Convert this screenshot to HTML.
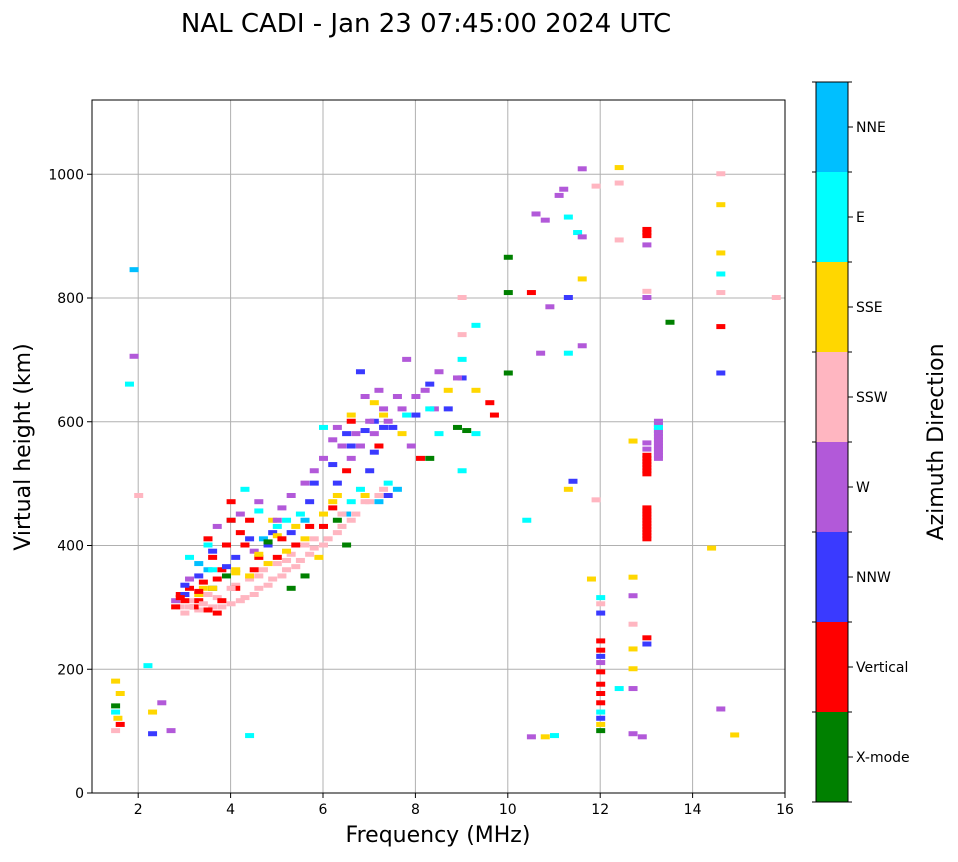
<!DOCTYPE html>
<html><head><meta charset="utf-8"><style>
body{margin:0;background:#fff;}
svg text{font-family:"DejaVu Sans","Liberation Sans",sans-serif;fill:#000;}
</style></head><body>
<svg id="chart" width="958" height="857" xmlns="http://www.w3.org/2000/svg">
<text x="426" y="32" font-size="26" text-anchor="middle">NAL CADI - Jan 23 07:45:00 2024 UTC</text>
<g id="grid"></g>
<g id="marks"></g>
<rect x="92" y="100" width="693" height="693" fill="none" stroke="#000" stroke-width="1"/>
<g id="axes"></g>
<text x="438" y="842" font-size="22" text-anchor="middle">Frequency (MHz)</text>
<text transform="translate(30,447) rotate(-90)" font-size="22" text-anchor="middle">Virtual height (km)</text>
<g id="cbar"></g>
<text transform="translate(943,442) rotate(-90)" font-size="22" text-anchor="middle">Azimuth Direction</text>
</svg>
<script>
const dirNames=["X-mode","Vertical","NNW","W","SSW","SSE","E","NNE"];
const dirColors=["#008000","#ff0000","#3a3aff","#b259d9","#ffb6c1","#ffd700","#00ffff","#00bfff"];
const xTicks=[2,4,6,8,10,12,14,16];
const yTicks=[0,200,400,600,800,1000];
const freq=[3.0,3.3,3.6,4.0,4.3,4.6,4.9,5.2,5.5,5.8,6.1,6.4,6.7,7.0,7.3,3.2,3.4,4.1,4.4,4.7,5.0,5.3,5.6,2.9,3.7,
2.8,3.0,3.2,3.5,3.8,3.1,3.4,3.6,3.9,4.2,4.4,4.0,3.8,4.5,5.0,5.4,6.0,6.5,6.6,7.2,8.1,2.9,3.3,3.7,4.1,
3.0,3.3,3.6,4.1,4.8,5.3,5.7,6.3,6.6,7.0,7.4,7.5,8.0,8.7,9.0,6.8,6.9,7.1,4.9,3.0,
3.7,4.2,4.6,5.1,5.6,6.0,6.4,6.7,7.0,7.3,7.6,7.8,8.2,8.5,8.9,7.9,6.2,7.2,8.4,6.9,3.1,2.8,4.5,
3.3,4.4,4.8,5.2,5.6,6.0,6.3,6.6,7.1,7.7,8.7,5.9,4.9,9.3,3.4,4.1,5.0,
3.1,3.5,4.0,4.3,5.0,5.5,6.0,6.6,7.4,8.3,8.5,9.3,
3.3,3.5,4.7,5.6,6.5,7.2,7.6,
3.6,5.6,5.3,8.9,9.1,8.3,6.5,3.9,
1.5,1.5,1.55,1.5,1.6,1.5,1.6,1.9,1.9,1.8,2.0,2.2,2.3,2.5,2.3,4.4,2.7,10.0,10.0,10.0,9.0,9.0,9.0,9.3,9.6,9.0,9.7,10.5,10.6,10.8,10.9,10.7,11.1,11.2,11.3,11.5,11.6,11.6,11.3,11.3,11.6,11.4,11.3,11.9,12.4,12.4,12.4,11.6,10.4,11.9,11.8,
12.0,12.0,12.0,12.0,12.0,12.0,12.0,12.0,12.0,12.0,12.0,12.0,12.0,12.0,12.0,12.4,12.7,12.7,12.7,12.7,12.7,12.7,12.7,12.9,11.0,10.5,10.8,13.0,13.0,13.0,13.0,13.0,12.7,13.5,14.4,14.6,14.6,14.6,14.6,14.6,14.6,14.6,14.6,14.9,15.8,
13.0,13.0,13.0,13.0,13.0,13.0,13.0,13.0,13.0,13.0,13.0,13.0,13.25,13.25,13.25,13.25,13.25,13.25,13.25,13.25,13.25,13.0,13.0,
3.1,3.4,3.8,4.2,4.5,4.8,5.1,5.4,5.7,6.0,6.3,6.6,3.5,4.0,4.6,5.2,5.8,6.4,6.9,7.2,
2.9,3.3,3.7,4.3,4.6,5.1,5.7,6.2,3.5,4.0,
5.3,5.8,6.3,6.8,7.4,7.7,8.0,6.6,7.1,5.0,
3.9,4.4,5.8,6.2,7.1,7.3,6.5,8.3,
3.6,4.1,4.6,5.4,6.2,6.9,7.3,
3.6,4.6,5.2,6.8,7.8,
4.8,6.3,
13.0,13.0,13.0,13.0,13.0,13.0,13.0,13.0,13.0,13.25,13.25,13.25,13.25,13.25,13.25,13.25];
const height=[290,295,300,305,315,330,345,360,375,395,410,430,450,470,490,310,320,335,345,360,370,385,400,300,315,
300,310,300,295,310,330,340,380,400,420,440,470,360,360,380,400,430,520,600,560,540,320,310,290,330,
320,350,390,380,400,420,470,500,560,520,480,590,610,620,670,680,585,600,420,335,
430,450,470,460,500,540,560,580,600,620,640,700,650,680,670,560,570,650,620,640,345,310,390,
320,350,370,390,410,450,480,610,630,580,650,380,440,650,330,360,415,
380,400,440,490,430,450,590,470,500,620,580,580,
370,360,410,440,450,470,490,
330,350,330,590,585,540,400,350,
140,130,120,100,160,180,110,845,705,660,480,205,95,145,130,92,100,865,808,678,800,740,700,755,630,520,610,808,935,925,785,710,965,975,930,905,898,1008,800,710,722,503,490,980,1010,985,893,830,440,473,345,
315,305,290,245,230,220,210,195,175,160,145,130,120,110,100,168,168,200,232,272,318,348,95,90,92,90,90,250,240,885,800,810,568,760,395,1000,950,872,838,808,753,678,135,93,800,
410,420,430,440,450,460,515,525,535,545,555,565,540,550,560,570,580,590,600,585,595,900,910,
300,305,300,310,320,335,350,365,385,400,420,440,320,330,350,375,410,450,470,480,
315,325,345,400,380,410,430,460,410,440,
480,520,590,560,600,620,640,540,580,440,
365,410,500,530,550,590,580,660,
330,355,385,430,470,480,610,
360,455,440,490,610,
405,440,
415,425,435,445,455,520,530,540,905,545,555,565,575,585,595,590];
const dir=[4,4,4,4,4,4,4,4,4,4,4,4,4,4,4,4,4,4,4,4,4,4,4,4,4,
1,1,1,1,1,1,1,1,1,1,1,1,1,1,1,1,1,1,1,1,1,1,1,1,1,
2,2,2,2,2,2,2,2,2,2,2,2,2,2,2,2,2,2,2,2,
3,3,3,3,3,3,3,3,3,3,3,3,3,3,3,3,3,3,3,3,3,3,3,
5,5,5,5,5,5,5,5,5,5,5,5,5,5,5,5,5,
6,6,6,6,6,6,6,6,6,6,6,6,
7,7,7,7,7,7,7,
0,0,0,0,0,0,0,0,
0,6,5,4,5,5,1,7,3,6,4,6,2,3,5,6,3,0,0,0,4,4,6,6,1,6,1,1,3,3,3,3,3,3,6,6,3,3,2,6,3,2,5,4,5,4,4,5,6,4,5,
6,4,2,1,1,2,3,1,1,1,1,6,2,5,0,6,3,5,5,4,3,5,3,3,6,3,5,1,2,3,3,4,5,0,5,4,5,5,6,4,1,2,3,5,4,
1,1,1,1,1,1,1,1,1,1,3,3,3,3,3,3,3,3,3,6,6,1,1,
4,4,4,4,4,4,4,4,4,4,4,4,4,4,4,4,4,4,4,4,
1,1,1,1,1,1,1,1,1,1,
3,3,3,3,3,3,3,3,3,3,
2,2,2,2,2,2,2,2,
5,5,5,5,5,5,5,
6,6,6,6,6,
0,0,
1,1,1,1,1,1,1,1,1,3,3,3,3,3,3,6];
const NS="http://www.w3.org/2000/svg";
const X0=92,X1=785,Y0=793,Y1=100,FMIN=1,FMAX=16,HMAX=1120;
function xs(f){return X0+(f-FMIN)/(FMAX-FMIN)*(X1-X0);}
function ys(h){return Y0-h/HMAX*(Y0-Y1);}
function mk(tag,attrs,parent){const e=document.createElementNS(NS,tag);for(const k in attrs)e.setAttribute(k,attrs[k]);parent.appendChild(e);return e;}
const grid=document.getElementById('grid'),axes=document.getElementById('axes'),marks=document.getElementById('marks'),cbar=document.getElementById('cbar');
xTicks.forEach(t=>{const x=xs(t);
 const g=mk('line',{x1:x,x2:x,y1:Y1,y2:Y0,stroke:'#b0b0b0','stroke-width':1},grid);
 
 
 mk('line',{x1:x,x2:x,y1:Y0,y2:Y0+5,stroke:'#000'},axes);
 const tx=mk('text',{x:x,y:Y0+21,'font-size':14,'text-anchor':'middle'},axes);tx.textContent=t;
 
 
});
yTicks.forEach(t=>{const y=ys(t);
 const g=mk('line',{x1:X0,x2:X1,y1:y,y2:y,stroke:'#b0b0b0','stroke-width':1},grid);
 
 
 mk('line',{x1:X0-5,x2:X0,y1:y,y2:y,stroke:'#000'},axes);
 const tx=mk('text',{x:X0-8,y:y+5,'font-size':14,'text-anchor':'end'},axes);tx.textContent=t;
 
 
});
for(let i=0;i<freq.length;i++){
 const r=mk('rect',{x:xs(freq[i])-4,y:ys(height[i])-3,width:9,height:5,fill:dirColors[dir[i]]},marks);
 
 
}
const CB0=82,CB1=802,CBX=816,CBW=32,n=dirNames.length,bh=(CB1-CB0)/n;
for(let i=0;i<n;i++){const yTop=CB1-(i+1)*bh;
 const r=mk('rect',{x:CBX,y:yTop,width:CBW,height:bh,fill:dirColors[i]},cbar);
 
 
 mk('line',{x1:CBX+CBW,x2:CBX+CBW+5,y1:yTop+bh/2,y2:yTop+bh/2,stroke:'#000'},cbar);
 mk('line',{x1:CBX+CBW,x2:CBX+CBW+4,y1:yTop,y2:yTop,stroke:'#000'},cbar);
 mk('line',{x1:CBX-4,x2:CBX,y1:yTop,y2:yTop,stroke:'#000'},cbar);
 const t=mk('text',{x:CBX+CBW+8,y:yTop+bh/2+5,'font-size':14},cbar);t.textContent=dirNames[i];
 
 
}
mk('line',{x1:CBX+CBW,x2:CBX+CBW+4,y1:CB1,y2:CB1,stroke:'#000'},cbar);
mk('line',{x1:CBX-4,x2:CBX,y1:CB1,y2:CB1,stroke:'#000'},cbar);
mk('rect',{x:CBX,y:CB0,width:CBW,height:CB1-CB0,fill:'none',stroke:'#000'},cbar);
</script>
</body></html>
